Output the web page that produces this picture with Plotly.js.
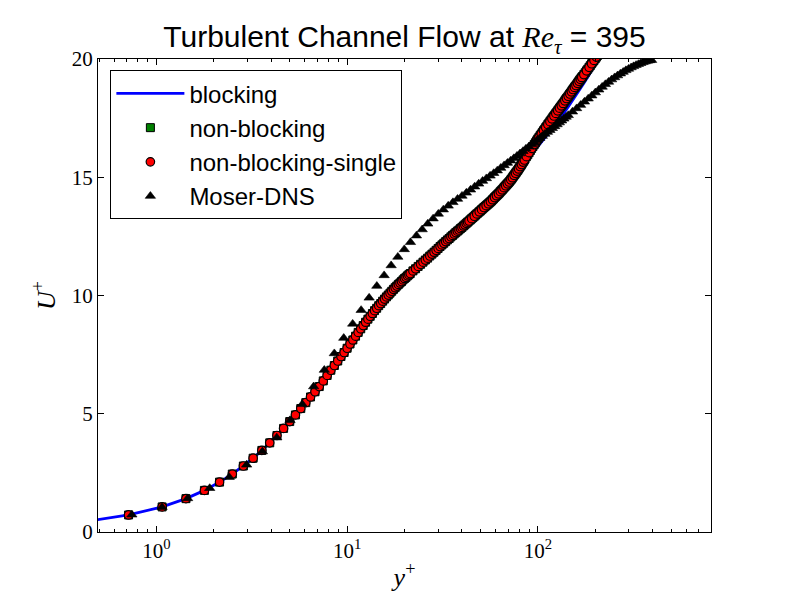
<!DOCTYPE html>
<html>
<head>
<meta charset="utf-8">
<script src="https://cdn.plot.ly/plotly-3.0.1.min.js"></script>
<style>html,body{margin:0;padding:0;background:#fff;}#chart{width:789px;height:592px;}</style>
</head>
<body>
<div id="chart"></div>
<script>
// ---- data ----
// simulation grid (y+) shared by the two non-blocking runs
var simX = [0.714,1.071,1.428,1.785,2.142,2.499,2.856,3.213,3.57,3.927,4.284,4.641,4.998,5.355,5.712,6.069,6.426,6.783,7.14,7.497,7.854,8.211,8.568,8.925,9.282,9.639,9.996,10.353,10.71,11.067,11.424,11.781,12.138,12.495,12.852,13.209,13.566,13.923,14.28,14.637,14.994,15.351,15.708,16.065,16.422,16.779,17.136,17.493,17.85,18.207,18.564,18.921,19.278,19.635,19.992,20.349,20.706,21.063,21.42,22.134,22.848,23.562,24.276,24.99,25.704,26.418,27.132,27.846,28.56,29.274,29.988,30.702,31.416,32.13,32.844,33.558,34.272,34.986,35.7,36.414,37.128,37.842,38.556,39.27,39.984,40.698,41.412,42.126,42.84,44.268,45.696,47.124,48.552,49.98,51.408,52.836,54.264,55.692,57.12,58.548,59.976,61.404,62.832,64.26,65.688,67.116,68.544,69.972,71.4,72.828,74.256,75.684,77.112,78.54,79.968,81.396,82.824,84.252,85.68,88.536,91.392,94.248,97.104,99.96,102.816,105.672,108.528,111.384,114.24,117.096,119.952,122.808,125.664,128.52,131.376,134.232,137.088,139.944,142.8,145.656,148.512,151.368,154.224,157.08,159.936,162.792,165.648,168.504,171.36,177.072,182.784,188.496,194.208,199.92,205.632,211.344];
var simU = [0.72,1.06,1.41,1.76,2.11,2.45,2.79,3.12,3.45,3.77,4.08,4.38,4.67,4.95,5.22,5.47,5.71,5.93,6.15,6.39,6.62,6.84,7.04,7.23,7.42,7.59,7.77,7.95,8.12,8.28,8.44,8.59,8.73,8.87,9.0,9.12,9.24,9.36,9.46,9.57,9.66,9.76,9.85,9.94,10.02,10.1,10.18,10.26,10.33,10.4,10.47,10.53,10.59,10.66,10.72,10.77,10.83,10.88,10.93,11.04,11.13,11.23,11.32,11.41,11.5,11.58,11.67,11.75,11.83,11.91,11.99,12.07,12.14,12.21,12.28,12.35,12.41,12.48,12.54,12.6,12.66,12.72,12.77,12.83,12.88,12.94,12.99,13.05,13.1,13.2,13.3,13.4,13.49,13.58,13.67,13.76,13.84,13.92,14.0,14.09,14.18,14.26,14.34,14.43,14.51,14.6,14.68,14.76,14.84,14.93,15.03,15.12,15.21,15.3,15.4,15.49,15.59,15.68,15.78,15.95,16.13,16.3,16.46,16.62,16.76,16.9,17.03,17.16,17.29,17.41,17.53,17.64,17.75,17.86,17.97,18.07,18.17,18.28,18.37,18.47,18.56,18.66,18.75,18.84,18.92,19.01,19.1,19.18,19.26,19.42,19.57,19.72,19.87,20.01,20.15,20.28];
// further grid points of the outer region (the band is very dense there)
var simXOuter = [43.554,44.982,46.41,47.838,49.266,50.694,52.122,53.55,54.978,56.406,57.834,59.262,60.69,62.118,63.546,64.974,66.402,67.83,69.258,70.686,72.114,73.542,74.97,76.398,77.826,79.254,80.682,82.11,83.538,84.966,87.108,89.964,92.82,95.676,98.532,101.388,104.244,107.1,109.956,112.812,115.668,118.524,121.38,124.236,127.092,129.948,132.804,135.66,138.516,141.372,144.228,147.084,149.94,152.796,155.652,158.508,161.364,164.22,167.076,169.932,174.216,179.928,185.64,191.352,197.064,202.776,208.488];
var simUOuter = [13.15,13.25,13.35,13.45,13.54,13.63,13.72,13.8,13.88,13.96,14.05,14.14,14.22,14.3,14.39,14.47,14.56,14.64,14.72,14.8,14.89,14.98,15.08,15.17,15.26,15.35,15.45,15.54,15.64,15.73,15.87,16.04,16.22,16.38,16.54,16.69,16.83,16.97,17.1,17.23,17.35,17.47,17.59,17.7,17.81,17.92,18.02,18.12,18.23,18.33,18.42,18.52,18.61,18.71,18.8,18.88,18.97,19.06,19.14,19.22,19.34,19.5,19.65,19.8,19.94,20.08,20.22];

// blocking run (line)
var blockX = [0.357,0.714,1.071,1.428,1.785,2.142,2.499,2.856,3.213,3.57,4.284,4.998,5.712,6.426,7.14,7.854,8.568,9.282,9.996,11.424,12.852,14.28,15.708,17.136,18.564,19.992,22.848,25.704,28.56,32.13,35.7,39.984,44.268,49.98,57.12,64.26,71.4,78.54,85.68,92.82,99.96,109.956,119.952,134.232,145.656,159.936,174.216,189.924,205.632,218.484,229.908,239.904];
var blockU = [0.357,0.72,1.06,1.41,1.76,2.11,2.45,2.79,3.12,3.45,4.08,4.67,5.22,5.71,6.15,6.62,7.04,7.42,7.77,8.44,9.0,9.46,9.85,10.18,10.47,10.72,11.13,11.5,11.83,12.21,12.54,12.88,13.2,13.58,14.0,14.43,14.84,15.26,15.7,16.02,16.3,16.72,17.1,17.62,18.02,18.5,18.98,19.46,19.93,20.28,20.58,20.84];

// Moser DNS
var dnsX = [0.743,1.070,1.457,1.902,2.407,2.971,3.594,4.275,5.016,5.815,6.673,7.590,8.565,9.598,10.69,11.84,13.04,14.31,15.63,17.01,18.44,19.94,21.48,23.09,24.75,26.47,28.24,30.07,31.95,33.89,35.88,37.93,40.02,42.18,44.38,46.64,48.95,51.32,53.73,56.2,58.71,61.29,63.89,66.57,69.29,72.06,74.87,77.73,80.64,83.6,86.61,89.66,92.76,95.9,99.09,102.3,105.6,108.9,112.3,115.7,119.1,122.6,126.2,129.7,133.3,137.0,140.7,144.4,152.0,159.7,167.6,175.6,183.7,191.9,200.3,208.8,217.4,226.1,234.9,243.8,252.8,261.9,271.1,280.3,289.6,299.0,308.5,317.9,327.5,337.0,346.7,356.3,365.9,375.6,385.3,395.0];
var dnsU = [0.73,1.05,1.42,1.85,2.32,2.84,3.40,3.99,4.72,5.4,6.15,6.85,7.55,8.2,8.8,9.38,9.9,10.4,10.85,11.27,11.63,11.95,12.25,12.53,12.79,13.03,13.25,13.45,13.63,13.79,13.94,14.08,14.21,14.34,14.47,14.6,14.72,14.84,14.95,15.06,15.17,15.28,15.39,15.5,15.6,15.7,15.8,15.9,16.0,16.1,16.2,16.29,16.38,16.47,16.56,16.65,16.74,16.83,16.91,16.99,17.07,17.15,17.23,17.31,17.39,17.47,17.55,17.62,17.77,17.91,18.05,18.19,18.32,18.45,18.58,18.7,18.82,18.93,19.03,19.13,19.22,19.3,19.38,19.45,19.52,19.58,19.64,19.69,19.74,19.78,19.82,19.86,19.89,19.92,19.94,19.95];

var xTickVals = [1, 10, 100];
var xTickText = ['10<sup>0</sup>', '10<sup>1</sup>', '10<sup>2</sup>'];
var yTickVals = [0, 5, 10, 15, 20];
var seriesNames = ['blocking', 'non-blocking', 'non-blocking-single', 'Moser-DNS'];

// ---- chart ----
var serif = 'Liberation Serif, DejaVu Serif, serif';
var sans = 'Liberation Sans, Arial, sans-serif';

var nbX = simX.concat(simXOuter);
var nbU = simU.concat(simUOuter);

var traces = [
  {x: blockX, y: blockU, name: seriesNames[0], type: 'scatter', mode: 'lines',
   line: {color: '#0000ff', width: 2.8}},
  {x: nbX, y: nbU, name: seriesNames[1], type: 'scatter', mode: 'markers',
   marker: {symbol: 'square', size: 8, color: '#008000', line: {color: '#000', width: 1.0}}},
  {x: nbX, y: nbU, name: seriesNames[2], type: 'scatter', mode: 'markers',
   marker: {symbol: 'circle', size: 8.5, color: '#ff0000', line: {color: '#000', width: 1.2}}},
  {x: dnsX, y: dnsU, name: seriesNames[3], type: 'scatter', mode: 'markers',
   marker: {symbol: 'triangle-up', size: 9, color: '#000000', line: {color: '#000', width: 0.6}}}
];

var axisCommon = {
  showline: true, linecolor: '#000', linewidth: 1, mirror: 'allticks',
  ticks: 'inside', ticklen: 6, tickwidth: 1, tickcolor: '#000',
  showgrid: false, zeroline: false,
  tickfont: {family: serif, size: 21, color: '#000'}
};

var layout = {
  width: 789, height: 592,
  margin: {l: 98, r: 78, t: 59, b: 60, pad: 0},
  paper_bgcolor: '#fff', plot_bgcolor: '#fff',
  showlegend: true,
  title: {
    text: 'Turbulent Channel Flow at <span style="font-family:Liberation Serif"><i>Re</i><sub><i>τ</i></sub></span> = 395',
    font: {family: sans, size: 30, color: '#000'},
    x: 0.5, xref: 'paper', xanchor: 'center',
    y: 0.938, yref: 'container', yanchor: 'middle'
  },
  xaxis: Object.assign({}, axisCommon, {
    type: 'log', range: [-0.3066, 2.9081],
    tickmode: 'array', tickvals: xTickVals, ticktext: xTickText,
    minor: {ticks: 'inside', ticklen: 3, tickwidth: 1, tickcolor: '#000', dtick: 'D1', showgrid: false},
    title: {text: '<i>y</i><sup>+</sup>', font: {family: serif, size: 26, color: '#000'}, standoff: 6}
  }),
  yaxis: Object.assign({}, axisCommon, {
    range: [0, 20], tickmode: 'array', tickvals: yTickVals,
    title: {text: '<i>U</i><sup>+</sup>', font: {family: serif, size: 26, color: '#000'}, standoff: 8}
  }),
  legend: {
    x: 0.0202, y: 0.976, xanchor: 'left', yanchor: 'top',
    bgcolor: '#fff', bordercolor: '#000', borderwidth: 1,
    font: {family: sans, size: 24, color: '#000'},
    itemwidth: 68, traceorder: 'normal'
  }
};

Plotly.newPlot('chart', traces, layout, {displayModeBar: false, staticPlot: true});
</script>
</body>
</html>
